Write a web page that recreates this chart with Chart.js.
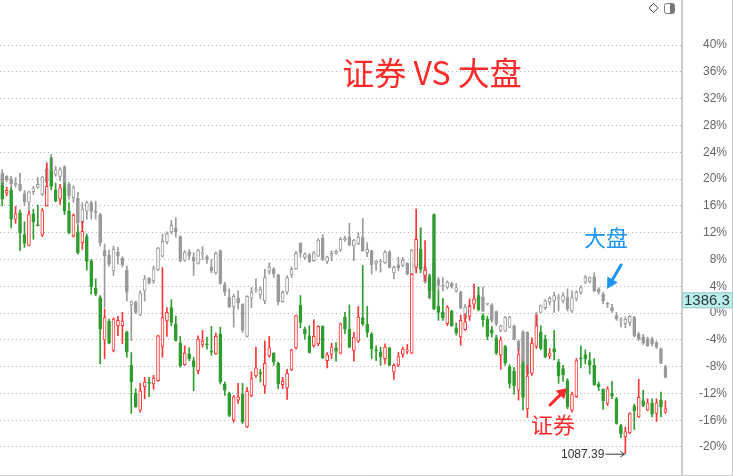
<!DOCTYPE html>
<html>
<head>
<meta charset="utf-8">
<script src="https://cdn.jsdelivr.net/npm/chart.js@4/dist/chart.umd.min.js"></script>
<style>
  html,body{margin:0;padding:0;background:#fff;}
  #wrap{width:733px;height:476px;position:relative;}
</style>
</head>
<body>
<div id="wrap"><canvas id="c" width="733" height="476"></canvas></div>
<script>
// ---------- DATA (percent change) ----------
const tickValues = [-20,-16,-12,-8,-4,0,4,8,12,16,20,24,28,32,36,40];

// 大盘 (index) candles
const gOpen = [
20.9,20.4,20.0,19.1,19.2,17.8,16.5,18.1,18.8,17.7,
19.5,23.2,20.7,20.4,21.8,19.2,17.2,17.1,13.5,15.2,
16.5,15.2,14.7,9.3,8.6,6.3,9.1,8.2,6.4,1.2,
1.6,-0.2,3.3,5.2,4.8,6.5,8.5,10.6,12.1,12.7,
11.4,7.9,9.1,8.3,7.4,9.0,8.4,6.8,6.0,9.3,
4.2,2.3,0.9,2.2,1.3,-3.5,2.2,3.4,2.7,1.8,
6.2,6.6,5.7,1.7,3.1,5.7,6.6,10.4,8.3,8.6,
7.8,8.5,11.2,7.7,8.6,8.9,9.4,10.9,11.3,10.0,
10.3,11.3,9.0,9.3,7.4,7.8,7.5,9.1,6.0,7.2,
7.1,7.4,5.3,6.8,9.5,6.8,5.6,7.5,5.0,4.1,
3.8,4.4,3.3,3.1,-0.9,0.3,1.6,2.6,2.4,1.3,
1.2,0.2,-2.6,-2.7,-2.1,-1.9,-4.2,-2.9,-2.9,-4.5,
-3.4,0.1,0.8,1.6,1.8,2.3,1.8,2.3,0.3,2.1,
3.1,4.6,4.7,5.4,3.6,2.8,1.4,0.8,-0.4,-1.0,
-1.6,-1.4,-0.6,-3.1,-3.6,-3.8,-3.9,-4.4,-5.4,-8.0];
const gHigh = [
21.4,20.5,20.4,20.2,20.9,18.3,18.2,18.9,20.2,20.4,
22.5,23.7,21.9,21.7,22.0,19.5,19.0,18.0,16.5,16.7,
16.7,16.7,14.9,10.3,9.4,10.0,9.8,8.4,7.0,1.8,
1.8,3.3,5.6,5.3,7.0,9.8,11.8,12.1,13.8,14.2,
11.5,9.3,9.5,9.0,9.5,9.9,8.6,8.0,9.1,9.4,
4.6,3.6,2.8,3.3,1.4,2.6,3.8,5.1,3.9,6.5,
7.5,6.8,5.8,3.3,5.6,6.9,9.2,10.5,9.0,8.9,
9.2,11.1,11.7,8.5,9.3,9.4,11.3,11.5,13.4,11.0,
12.0,14.1,10.5,9.4,7.8,8.0,9.3,9.3,7.0,8.3,
8.3,7.5,9.5,11.3,12.7,7.3,5.8,7.6,5.3,5.3,
4.8,4.6,4.4,3.3,1.3,1.3,2.4,3.8,3.9,1.5,
1.4,0.3,-1.8,-0.5,-0.5,-1.8,-4.0,-2.6,-2.8,-4.2,
0.1,1.2,2.0,2.4,3.1,2.8,3.0,3.6,3.3,3.3,
4.1,5.6,5.4,6.0,3.8,3.1,1.6,1.3,0.1,-0.7,
-0.6,-0.4,-0.5,-2.9,-3.2,-3.6,-3.6,-4.2,-5.2,-7.8];
const gLow = [
18.2,19.6,18.7,18.8,18.2,16.0,15.0,17.7,18.6,17.5,
19.0,20.6,20.4,19.7,18.2,17.0,16.5,13.0,12.7,14.0,
14.0,14.0,10.0,0.8,7.0,5.6,7.3,6.9,1.8,-4.1,
-0.1,-0.4,1.8,4.3,4.4,6.3,8.3,10.3,11.8,11.3,
7.6,7.7,8.0,5.6,7.3,8.0,7.4,6.0,5.8,4.3,
2.6,0.8,-2.1,0.6,-2.9,-3.6,0.8,3.1,2.1,1.4,
5.8,5.3,1.2,1.6,2.8,5.3,6.5,8.3,8.0,7.5,
7.7,8.4,7.8,7.4,7.8,8.8,9.2,10.7,10.0,7.8,
10.2,9.2,8.4,5.8,6.4,6.1,7.4,6.7,5.1,6.3,
6.9,5.7,5.1,6.5,6.4,4.4,2.1,2.5,3.3,3.3,
3.6,3.7,3.1,0.6,-1.1,0.2,1.4,1.4,0.2,1.2,
-1.4,-1.9,-2.8,-2.8,-2.2,-4.0,-5.5,-9.0,-9.3,-8.7,
-3.6,0.0,0.5,1.2,0.1,0.3,1.5,0.3,0.1,1.8,
2.8,4.4,4.5,3.2,2.8,1.4,0.8,0.1,-1.1,-2.1,
-2.2,-1.9,-3.6,-4.1,-4.7,-5.0,-4.9,-5.3,-7.6,-9.7];
const gClose = [
18.9,19.9,19.3,19.4,18.3,16.6,18.1,18.7,19.2,20.3,
21.5,21.1,21.4,21.4,18.7,17.5,18.7,13.5,15.5,16.5,
15.2,15.0,10.5,8.5,7.3,9.5,8.5,7.2,3.1,1.7,
0.1,3.0,5.1,4.5,6.6,9.7,10.7,11.8,13.1,12.1,
7.8,9.1,8.6,7.8,9.3,9.0,8.0,6.3,8.9,4.4,
3.1,0.9,2.5,1.5,-2.6,2.5,3.1,3.5,3.5,5.3,
6.9,5.8,1.7,3.1,5.3,6.5,8.9,9.0,8.8,7.7,
9.0,10.9,8.0,8.4,8.9,9.2,11.0,11.2,10.2,10.9,
11.3,9.3,9.5,7.2,7.7,7.8,9.1,6.8,6.8,6.7,
7.9,5.8,9.4,11.0,6.5,4.6,2.3,3.3,4.1,4.1,
4.6,3.9,3.8,0.8,0.9,1.2,2.1,1.6,0.3,1.4,
-1.1,-1.6,-1.9,-0.7,-0.6,-3.9,-5.4,-7.6,-9.1,-8.6,
-0.1,1.1,1.8,2.2,2.6,2.3,2.6,0.6,2.3,3.1,
3.8,5.3,5.3,3.3,3.1,1.8,1.3,0.3,-0.9,-1.0,
-0.9,-0.5,-3.4,-3.9,-4.5,-4.9,-4.6,-5.1,-7.5,-9.6];

// 证券 (brokerage sector) candles
const sOpen = [
18.9,17.9,18.3,14.0,15.0,11.7,10.1,14.8,13.1,11.6,
16.0,21.1,18.4,17.0,18.7,15.2,11.5,12.1,10.5,11.4,
7.7,3.7,2.3,-4.0,-1.2,-5.6,-1.9,-1.9,-2.9,-7.8,
-12.0,-14.5,-11.0,-10.3,-10.6,-10.1,-5.0,-1.2,0.8,-1.6,
-4.5,-7.7,-6.1,-7.1,-8.6,-4.7,-4.6,-5.7,-6.1,-3.2,
-10.6,-12.0,-16.0,-13.0,-12.1,-17.0,-12.3,-9.4,-8.9,-10.9,
-6.4,-6.0,-7.5,-10.7,-11.2,-8.5,-5.2,1.2,-2.4,-3.4,
-4.9,-4.6,-2.0,-7.1,-6.2,-5.2,-6.0,-0.6,-2.4,-5.6,
-4.2,-0.7,-1.7,-3.2,-5.5,-5.8,-6.8,-5.2,-8.8,-7.8,
-6.2,-5.7,-6.0,6.8,9.5,5.6,5.4,14.7,1.0,0.1,
-1.6,0.3,-2.2,-3.6,-2.5,-0.5,1.3,2.6,-0.4,-0.9,
-2.5,-3.7,-6.3,-5.0,-8.0,-8.7,-11.5,-7.6,-14.3,-9.0,
-5.0,-2.8,-3.9,-6.4,-5.3,-7.3,-8.3,-10.1,-14.5,-12.5,
-6.7,-6.2,-7.1,-7.8,-10.6,-11.4,-13.5,-12.0,-12.8,-16.8,
-18.5,-17.9,-13.9,-15.5,-13.1,-14.5,-13.5,-15.0,-13.0,-14.8];
const sHigh = [
19.4,18.8,18.7,15.9,15.4,13.6,15.2,15.5,16.1,15.6,
22.3,23.2,19.4,19.2,19.4,16.5,14.8,13.0,13.7,11.8,
8.0,5.1,2.6,0.6,-0.9,-0.7,-0.5,0.1,-2.7,-5.9,
-11.3,-10.5,-9.6,-9.6,-9.3,-3.3,6.8,0.8,2.0,-0.5,
-3.5,-4.9,-5.2,-6.6,-3.4,-2.6,-3.6,-2.0,-3.0,-2.1,
-10.3,-11.8,-12.3,-10.5,-10.5,-11.1,-8.8,-5.1,-8.4,-4.2,
-3.5,-5.9,-7.3,-9.6,-8.4,-5.4,-0.3,2.6,-2.1,-1.9,
-1.0,-1.9,-1.9,-5.9,-4.5,-4.4,-1.5,0.1,1.2,-2.9,
1.0,7.1,1.0,-2.9,-4.9,-5.1,-4.6,-5.1,-7.6,-5.9,
-5.1,-4.7,5.9,15.5,12.7,10.8,5.8,14.8,3.3,2.2,
1.1,0.4,-1.5,-0.3,0.0,2.1,4.3,3.9,0.0,-0.5,
-2.0,-3.3,-3.6,-4.8,-7.7,-8.1,-5.4,-7.2,-7.8,-3.7,
-0.3,-1.9,-3.3,-5.3,-2.6,-6.9,-7.8,-9.8,-11.8,-6.8,
-4.9,-5.5,-5.9,-6.8,-10.3,-11.3,-11.0,-10.2,-12.6,-16.6,
-17.0,-14.9,-13.6,-9.9,-11.5,-12.8,-12.8,-12.8,-11.8,-13.1];
const sLow = [
16.0,17.5,12.7,13.4,9.3,9.8,10.0,11.0,13.0,11.4,
15.9,18.4,16.6,16.2,14.7,11.8,11.3,8.8,9.5,6.4,
2.8,2.6,-7.6,-6.8,-4.6,-5.8,-3.4,-4.6,-6.6,-15.0,
-14.1,-14.8,-12.8,-12.5,-11.4,-10.2,-6.6,-3.5,-1.9,-4.2,
-8.1,-7.8,-7.1,-11.6,-9.1,-5.1,-5.4,-6.3,-6.2,-10.6,
-12.3,-15.5,-16.3,-13.5,-16.5,-17.1,-12.5,-9.6,-10.3,-12.0,
-6.6,-7.8,-11.3,-11.3,-12.9,-8.6,-5.4,-2.2,-3.9,-6.0,
-5.1,-4.9,-6.8,-8.2,-6.8,-7.2,-6.1,-3.1,-5.2,-7.2,
-4.4,-1.9,-3.6,-6.8,-7.1,-7.8,-7.6,-7.9,-9.9,-8.0,
-6.6,-6.1,-6.1,6.0,6.0,4.8,2.2,0.5,-1.1,-1.1,
-1.9,-2.0,-3.3,-4.8,-2.6,-1.1,0.6,0.3,-2.0,-4.0,
-3.6,-6.2,-8.4,-7.8,-11.2,-12.1,-13.0,-14.5,-15.6,-9.3,
-5.3,-5.5,-6.7,-6.8,-7.0,-10.5,-10.2,-14.3,-14.8,-12.6,
-8.2,-7.6,-9.1,-10.8,-11.6,-14.4,-13.8,-12.8,-16.6,-18.6,
-21.0,-18.0,-17.4,-15.6,-14.0,-14.6,-15.5,-16.2,-15.5,-15.0];
const sClose = [
17.0,18.3,14.0,14.8,11.9,10.4,14.7,13.6,13.0,15.3,
18.9,18.9,16.7,18.7,15.2,12.0,14.6,9.0,12.2,7.7,
3.9,2.8,-2.4,-0.7,-4.5,-0.9,-1.1,-1.2,-5.8,-10.3,
-14.0,-11.6,-10.3,-10.5,-9.7,-3.4,-0.7,0.1,-1.4,-4.1,
-7.9,-6.0,-6.8,-8.0,-3.9,-4.2,-4.7,-5.8,-3.5,-10.3,
-11.5,-15.3,-12.5,-12.5,-16.3,-11.7,-9.8,-8.2,-9.0,-7.5,
-5.2,-7.3,-10.6,-10.2,-9.0,-5.5,-0.4,-1.4,-3.1,-5.9,
-3.5,-2.0,-6.7,-6.2,-5.1,-5.7,-1.6,-2.4,-5.1,-3.6,
-0.6,-1.6,-2.9,-5.4,-5.6,-6.5,-5.1,-7.8,-7.8,-6.5,
-5.4,-5.55,5.8,11.0,6.6,6.4,3.3,0.6,0.1,-0.7,
0.9,-1.9,-3.0,-1.1,-1.3,1.0,2.1,0.5,-1.0,-3.5,
-3.0,-6.0,-4.0,-7.5,-10.5,-10.9,-6.2,-12.6,-9.4,-4.5,
-1.9,-5.3,-6.5,-6.0,-5.8,-9.4,-9.2,-14.0,-12.1,-7.1,
-6.8,-6.8,-7.8,-10.7,-11.0,-13.1,-11.3,-12.4,-16.5,-18.0,
-17.7,-15.0,-14.6,-12.6,-13.8,-13.4,-15.1,-13.4,-14.0,-14.3];

const titleText = '证券 VS 大盘';
const label1 = '大盘';
const label2 = '证券';
const minLabel = '1087.39';
const lastPriceLabel = '1386.3';
const lastPriceValue = 1.9;

// ---------- BUILD ----------
const SLOTS = 153;
const labels = Array.from({length: SLOTS}, (_, i) => String(i));
const pad = a => a.concat(new Array(SLOTS - a.length).fill(null));

const GREY = '#9a9a9a', RED = '#ff3434', GREEN = '#2f9d2f';

const gUp = gOpen.map((o, i) => gClose[i] >= o);
const sUp = sOpen.map((o, i) => sClose[i] >= o);

const gWick = pad(gLow.map((l, i) => [l, gHigh[i]]));
const gBody = pad(gOpen.map((o, i) => [o, gClose[i]]));
const sWick = pad(sLow.map((l, i) => [l, sHigh[i]]));
const sBody = pad(sOpen.map((o, i) => [o, sClose[i]]));

let minIdx = 0;
sLow.forEach((v, i) => { if (v < sLow[minIdx]) minIdx = i; });

const common = { grouped: false, borderSkipped: false };

const annot = {
  id: 'annot',
  beforeDraw(chart) {
    const c = chart.ctx;
    c.save();
    c.fillStyle = '#ffffff';
    c.fillRect(0, 0, chart.width, chart.height);
    c.restore();
  },
  afterDraw(chart) {
    const c = chart.ctx;
    const xs = chart.scales.x, ys = chart.scales.y;
    const area = chart.chartArea;
    c.save();
    c.strokeStyle = '#cccccc';
    c.lineWidth = 2;
    c.beginPath(); c.moveTo(area.right + 1, 0); c.lineTo(area.right + 1, 476); c.stroke();
    c.lineWidth = 1;
    c.beginPath(); c.moveTo(732.5, 0); c.lineTo(732.5, 476); c.stroke();
    c.beginPath(); c.moveTo(0, 475.5); c.lineTo(733, 475.5); c.stroke();

    c.font = '32px "Noto Sans CJK SC", sans-serif';
    c.fillStyle = '#ff2a2a';
    c.textAlign = 'center';
    c.textBaseline = 'middle';
    c.fillText(titleText, 432, 73);

    c.font = '22px "Noto Sans CJK SC", sans-serif';
    c.fillStyle = '#1b95f2';
    c.fillText(label1, 606, 238);
    drawArrow(c, 621, 265, 607, 289, '#1b95f2', 3, 11, 6);

    c.fillStyle = '#ff2a2a';
    c.fillText(label2, 553, 425);
    drawArrow(c, 550, 405, 567, 388, '#ff2a2a', 3, 10, 6);

    const mx = xs.getPixelForValue(minIdx);
    const my = ys.getPixelForValue(sLow[minIdx]);
    c.font = '12px "Liberation Sans", Arial, sans-serif';
    c.fillStyle = '#333';
    c.textAlign = 'right';
    c.fillText(minLabel, mx - 21, my + 1);
    c.strokeStyle = '#333'; c.lineWidth = 1;
    c.beginPath(); c.moveTo(mx - 20, my + 0.5); c.lineTo(mx - 1, my + 0.5); c.stroke();
    c.beginPath(); c.moveTo(mx - 5, my - 2.5); c.lineTo(mx - 1, my + 0.5); c.lineTo(mx - 5, my + 3.5); c.stroke();

    const ly = ys.getPixelForValue(lastPriceValue);
    c.fillStyle = '#b7eeee';
    c.fillRect(area.right + 1, ly - 8, 51, 16);
    c.strokeStyle = '#a8c8c8';
    c.strokeRect(area.right + 1.5, ly - 7.5, 50, 15);
    c.fillStyle = '#333';
    c.textAlign = 'left';
    c.font = '15px "Liberation Sans", Arial, sans-serif';
    c.fillText(lastPriceLabel, area.right + 3, ly + 1);

    c.strokeStyle = '#555'; c.lineWidth = 1;
    c.beginPath();
    c.moveTo(653.5, 3.5); c.lineTo(658, 8); c.lineTo(653.5, 12.5); c.lineTo(649, 8); c.closePath(); c.stroke();
    c.strokeStyle = '#777';
    c.beginPath();
    if (c.roundRect) c.roundRect(664.5, 3.5, 10, 10, 2); else c.rect(664.5, 3.5, 10, 10);
    c.stroke();
    c.fillStyle = '#777';
    c.fillRect(670, 4, 4, 9);
    c.restore();
  }
};

function drawArrow(c, x1, y1, x2, y2, color, w, headLen, headHalf) {
  const ang = Math.atan2(y2 - y1, x2 - x1);
  const bx = x2 - headLen * Math.cos(ang), by = y2 - headLen * Math.sin(ang);
  c.save();
  c.strokeStyle = color; c.fillStyle = color; c.lineWidth = w; c.lineCap = 'round';
  c.beginPath(); c.moveTo(x1, y1); c.lineTo(bx, by); c.stroke();
  c.beginPath();
  c.moveTo(x2, y2);
  c.lineTo(bx + headHalf * Math.sin(ang), by - headHalf * Math.cos(ang));
  c.lineTo(bx - headHalf * Math.sin(ang), by + headHalf * Math.cos(ang));
  c.closePath(); c.fill();
  c.restore();
}

new Chart(document.getElementById('c'), {
  type: 'bar',
  data: {
    labels,
    datasets: [
      Object.assign({ label: 'g-wick', data: gWick, backgroundColor: GREY, barThickness: 1, order: 4 }, common),
      Object.assign({ label: 'g-body', data: gBody,
        backgroundColor: gUp.map(u => u ? '#ffffff' : GREY), borderColor: GREY, borderWidth: 1,
        barThickness: 3, minBarLength: 1, order: 3 }, common),
      Object.assign({ label: 's-wick', data: sWick,
        backgroundColor: sUp.map(u => u ? RED : GREEN), barThickness: 1, order: 2 }, common),
      Object.assign({ label: 's-body', data: sBody,
        backgroundColor: sUp.map(u => u ? '#ffffff' : GREEN), borderColor: sUp.map(u => u ? RED : GREEN),
        borderWidth: 1, barThickness: 3, minBarLength: 1, order: 1 }, common)
    ]
  },
  options: {
    responsive: false,
    animation: false,
    events: [],
    layout: { padding: { left: 0, top: 0, bottom: 0, right: 6 } },
    plugins: { legend: { display: false }, tooltip: { enabled: false }, title: { display: false } },
    scales: {
      x: { display: false, offset: true },
      y: {
        position: 'right',
        min: -24.33, max: 46.72,
        afterBuildTicks: s => { s.ticks = tickValues.map(v => ({ value: v })); },
        afterFit: s => { s.width = 46; s.paddingTop = 0; s.paddingBottom = 0; },
        grid: { color: '#b4b4b4', lineWidth: 1, drawTicks: false },
        border: { display: false, dash: [1, 3] },
        ticks: {
          crossAlign: 'far', padding: 4, color: '#666',
          font: { family: '"Liberation Sans", Arial, sans-serif', size: 12 },
          callback: v => v + '%'
        }
      }
    }
  },
  plugins: [annot]
});
</script>
</body>
</html>
